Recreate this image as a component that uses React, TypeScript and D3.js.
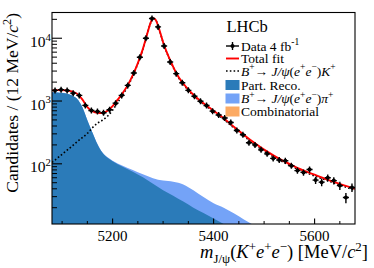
import React from 'react'
import * as d3 from 'd3'

// data histogram, 12 MeV bins
const massBins = [
  5086, 5098, 5110, 5122, 5134, 5146, 5158, 5170, 5182, 5194,
  5206, 5218, 5230, 5242, 5254, 5266, 5278, 5290, 5302, 5314,
  5326, 5338, 5350, 5362, 5374, 5386, 5398, 5410, 5422, 5434,
  5446, 5458, 5470, 5482, 5494, 5506, 5518, 5530, 5542, 5554,
  5566, 5578, 5590, 5602, 5614, 5626, 5638, 5650, 5662, 5674,
]
const counts = [
  1476, 1517, 1476, 1335, 1228, 851, 708, 682, 650, 726,
  925, 1228, 1774, 2793, 4970, 10000, 20600, 15150, 7540, 4180,
  2730, 1960, 1480, 1190, 990, 850, 690, 600, 537, 455,
  339, 290, 216, 200, 167, 144, 122, 115, 112, 93,
  78, 73, 81, 55, 51, 60, 54, 45, 29, 42,
]

// fit curves
const fitMass = [
  5080, 5090, 5100, 5110, 5120, 5130, 5140, 5150, 5160, 5170, 5180, 5190, 5200,
  5210, 5220, 5230, 5240, 5250, 5260, 5265, 5270, 5275, 5280, 5285, 5290, 5295,
  5300, 5305, 5310, 5315, 5320, 5330, 5340, 5350, 5360, 5370, 5380, 5390, 5400,
  5420, 5440, 5460, 5480, 5500, 5520, 5540, 5560, 5580, 5600, 5620, 5640, 5660, 5680,
]
const totalFit = [
  1480, 1490, 1490, 1470, 1420, 1300, 1060, 800, 690, 650, 645, 700, 830,
  1050, 1340, 1790, 2580, 4020, 6770, 9260, 12950, 17350, 20850, 19850, 15850, 11750,
  8650, 6650, 5300, 4300, 3500, 2450, 1900, 1520, 1260, 1065, 920, 800, 700,
  530, 390, 290, 218, 168, 134, 109, 91, 77, 67, 58, 51, 45, 40,
]
const signalFit = [
  105, 122, 142, 165, 192, 225, 262, 305, 375, 445, 495, 575, 715,
  945, 1250, 1705, 2500, 3950, 6700, 9200, 12900, 17300, 20800, 19800, 15800, 11700,
  8600, 6600, 5250, 4250, 3450, 2400, 1850, 1480, 1220, 1030, 890, 775, 675,
  510, 374, 277, 207, 159, 127, 104, 87, 74, 64, 56, 49, 43, 38,
]

const bkgMass = [
  5080, 5090, 5100, 5110, 5120, 5130, 5140, 5150, 5160, 5170, 5180, 5190, 5200,
  5220, 5240, 5260, 5280, 5300, 5320, 5340, 5360, 5380, 5400, 5420, 5440, 5460,
  5480, 5500, 5520,
]
const partReco = [
  1375, 1368, 1348, 1305, 1228, 1075, 800, 495, 315, 205, 150, 125, 110,
  90, 75, 61, 48, 38, 31, 25, 20, 16.5, 13.5, 11, 8.8, 7,
  5.5, 4.5, 3.5,
]
const jpsiPi = [
  0.5, 0.5, 0.6, 0.7, 0.8, 0.9, 1, 1.1, 1.3, 1.5, 1.7, 2, 2.3,
  3.5, 5, 7, 11, 16, 21, 22, 18, 13, 10, 9, 7.5, 6,
  5, 4, 3,
]

const xMajor = [5200, 5400, 5600]
const yMajor = [100, 1000, 10000]

const FONT = '"Liberation Serif", "DejaVu Serif", serif'
const C_PART = '#2b7bb9'
const C_PI = '#74a3f7'
const C_COMB = '#fcaa63'

const L = 52, R = 355, T = 12.5, B = 224

const x = d3.scaleLinear().domain([5080, 5680]).range([L, R])
const y = d3.scaleLog().domain([11, 25700]).range([B, T])

type Part = { t: string; s?: 'sup' | 'sub'; i?: boolean }

// small text helper for super/subscripts
const Rich = ({ parts, fs, ...rest }: { parts: Part[]; fs: number; [k: string]: any }) => {
  let cur = 0
  return (
    <text fontSize={fs} {...rest}>
      {parts.map((p, k) => {
        const target = p.s === 'sup' ? -0.4 * fs : p.s === 'sub' ? 0.28 * fs : 0
        const dy = target - cur
        cur = target
        return (
          <tspan
            key={k}
            dy={dy}
            fontSize={p.s ? fs * 0.7 : fs}
            fontStyle={p.i ? 'italic' : 'normal'}
          >
            {p.t}
          </tspan>
        )
      })}
    </text>
  )
}

const App = () => {
  const line = d3
    .line<number>()
    .x((_, i) => x(fitMass[i]))
    .y((d) => y(d))
    .curve(d3.curveMonotoneX)

  const area = d3
    .area<number>()
    .x((_, i) => x(bkgMass[i]))
    .y0(B + 40)
    .y1((d) => y(Math.max(d, 1)))
    .curve(d3.curveMonotoneX)

  const piStack = partReco.map((v, i) => v + jpsiPi[i])
  const minors = y.ticks().filter((t) => !yMajor.includes(t))
  const xMinors = x.ticks(12).filter((t) => !xMajor.includes(t))

  const rows = [46, 58.5, 71, 85, 98.5, 111.5]
  const lx = 241
  const lfs = 13.5

  return (
    <svg
      width={374}
      height={268}
      style={{ position: 'absolute', left: 0, top: 0, background: '#fff' }}
      fontFamily={FONT}
    >
      <defs>
        <clipPath id="plot">
          <rect x={L} y={T} width={R - L} height={B - T} />
        </clipPath>
      </defs>

      <g clipPath="url(#plot)">
        <path d={area(piStack) ?? ''} fill={C_PI} />
        <path d={area(partReco) ?? ''} fill={C_PART} />
        <path
          d={line(signalFit) ?? ''}
          fill="none"
          stroke="#000"
          strokeWidth={1.6}
          strokeDasharray="1.6 2.2"
        />
        <path d={line(totalFit) ?? ''} fill="none" stroke="#f00" strokeWidth={1.9} />
        {massBins.map((m, i) => {
          const n = counts[i]
          const e = Math.sqrt(n)
          const cy = y(n)
          const y1 = Math.min(y(n + e), cy - 3)
          const y2 = Math.max(y(n - e), cy + 3)
          return (
            <g key={m} stroke="#000" strokeWidth={1.4}>
              <line x1={x(m - 6)} x2={x(m + 6)} y1={cy} y2={cy} />
              <line x1={x(m)} x2={x(m)} y1={y1} y2={y2} />
              <circle cx={x(m)} cy={cy} r={2} fill="#000" stroke="none" />
            </g>
          )
        })}
      </g>

      {/* frame + ticks */}
      <rect x={L} y={T} width={R - L} height={B - T} fill="none" stroke="#000" strokeWidth={1.1} />
      {yMajor.map((t) => (
        <line key={t} x1={L} x2={L + 10} y1={y(t)} y2={y(t)} stroke="#000" strokeWidth={1.1} />
      ))}
      {minors.map((t) => (
        <line key={t} x1={L} x2={L + 5} y1={y(t)} y2={y(t)} stroke="#000" strokeWidth={1} />
      ))}
      {xMajor.map((t) => (
        <line key={t} x1={x(t)} x2={x(t)} y1={B} y2={B - 5.5} stroke="#000" strokeWidth={1.1} />
      ))}
      {xMinors.map((t) => (
        <line key={t} x1={x(t)} x2={x(t)} y1={B} y2={B - 3} stroke="#000" strokeWidth={1} />
      ))}

      {xMajor.map((t) => (
        <text key={t} x={x(t)} y={241} fontSize={15} textAnchor="middle">
          {t}
        </text>
      ))}
      {yMajor.map((t) => (
        <Rich
          key={t}
          fs={15.5}
          x={51}
          y={y(t) + 8.5}
          textAnchor="end"
          parts={[{ t: '10' }, { t: String(Math.round(Math.log10(t))), s: 'sup' }]}
        />
      ))}

      <Rich
        fs={17.5}
        transform={`translate(17.5,13) rotate(-90)`}
        textAnchor="end"
        parts={[
          { t: 'Candidates / (12 MeV/' },
          { t: 'c', i: true },
          { t: '2', s: 'sup' },
          { t: ')' },
        ]}
      />
      <Rich
        fs={18.5}
        x={368}
        y={258}
        textAnchor="end"
        parts={[
          { t: 'm', i: true },
          { t: 'J/ψ', s: 'sub' },
          { t: '(' },
          { t: 'K', i: true },
          { t: '+', s: 'sup' },
          { t: 'e', i: true },
          { t: '+', s: 'sup' },
          { t: 'e', i: true },
          { t: '−', s: 'sup' },
          { t: ') [MeV/' },
          { t: 'c', i: true },
          { t: '2', s: 'sup' },
          { t: ']' },
        ]}
      />

      {/* legend */}
      <text x={226.5} y={31.5} fontSize={16.5}>
        LHCb
      </text>
      <g stroke="#000" strokeWidth={1.4}>
        <line x1={226} x2={239} y1={rows[0]} y2={rows[0]} />
        <line x1={232.5} x2={232.5} y1={rows[0] - 4} y2={rows[0] + 4} />
        <circle cx={232.5} cy={rows[0]} r={2} fill="#000" stroke="none" />
      </g>
      <line x1={226} x2={239} y1={rows[1]} y2={rows[1]} stroke="#f00" strokeWidth={1.9} />
      <line
        x1={226}
        x2={239}
        y1={rows[2]}
        y2={rows[2]}
        stroke="#000"
        strokeWidth={1.6}
        strokeDasharray="1.6 2.2"
      />
      <rect x={225.5} y={rows[3] - 5} width={14} height={10} fill={C_PART} />
      <rect x={225.5} y={rows[4] - 5} width={14} height={10} fill={C_PI} />
      <rect x={225.5} y={rows[5] - 5} width={14} height={10} fill={C_COMB} />

      <Rich fs={lfs} x={lx} y={rows[0] + 4.5} parts={[{ t: 'Data 4 fb' }, { t: '-1', s: 'sup' }]} />
      <Rich fs={lfs} x={lx} y={rows[1] + 4.5} parts={[{ t: 'Total fit' }]} />
      <Rich
        fs={lfs}
        x={lx}
        y={rows[2] + 4.5}
        parts={[
          { t: 'B', i: true },
          { t: '+', s: 'sup' },
          { t: '→ ' },
          { t: 'J/ψ', i: true },
          { t: '(' },
          { t: 'e', i: true },
          { t: '+', s: 'sup' },
          { t: 'e', i: true },
          { t: '−', s: 'sup' },
          { t: ')' },
          { t: 'K', i: true },
          { t: '+', s: 'sup' },
        ]}
      />
      <Rich fs={lfs} x={lx} y={rows[3] + 4.5} parts={[{ t: 'Part. Reco.' }]} />
      <Rich
        fs={lfs}
        x={lx}
        y={rows[4] + 4.5}
        parts={[
          { t: 'B', i: true },
          { t: '+', s: 'sup' },
          { t: '→ ' },
          { t: 'J/ψ', i: true },
          { t: '(' },
          { t: 'e', i: true },
          { t: '+', s: 'sup' },
          { t: 'e', i: true },
          { t: '−', s: 'sup' },
          { t: ')' },
          { t: 'π', i: true },
          { t: '+', s: 'sup' },
        ]}
      />
      <Rich fs={lfs} x={lx} y={rows[5] + 4.5} parts={[{ t: 'Combinatorial' }]} />
    </svg>
  )
}

export default App
